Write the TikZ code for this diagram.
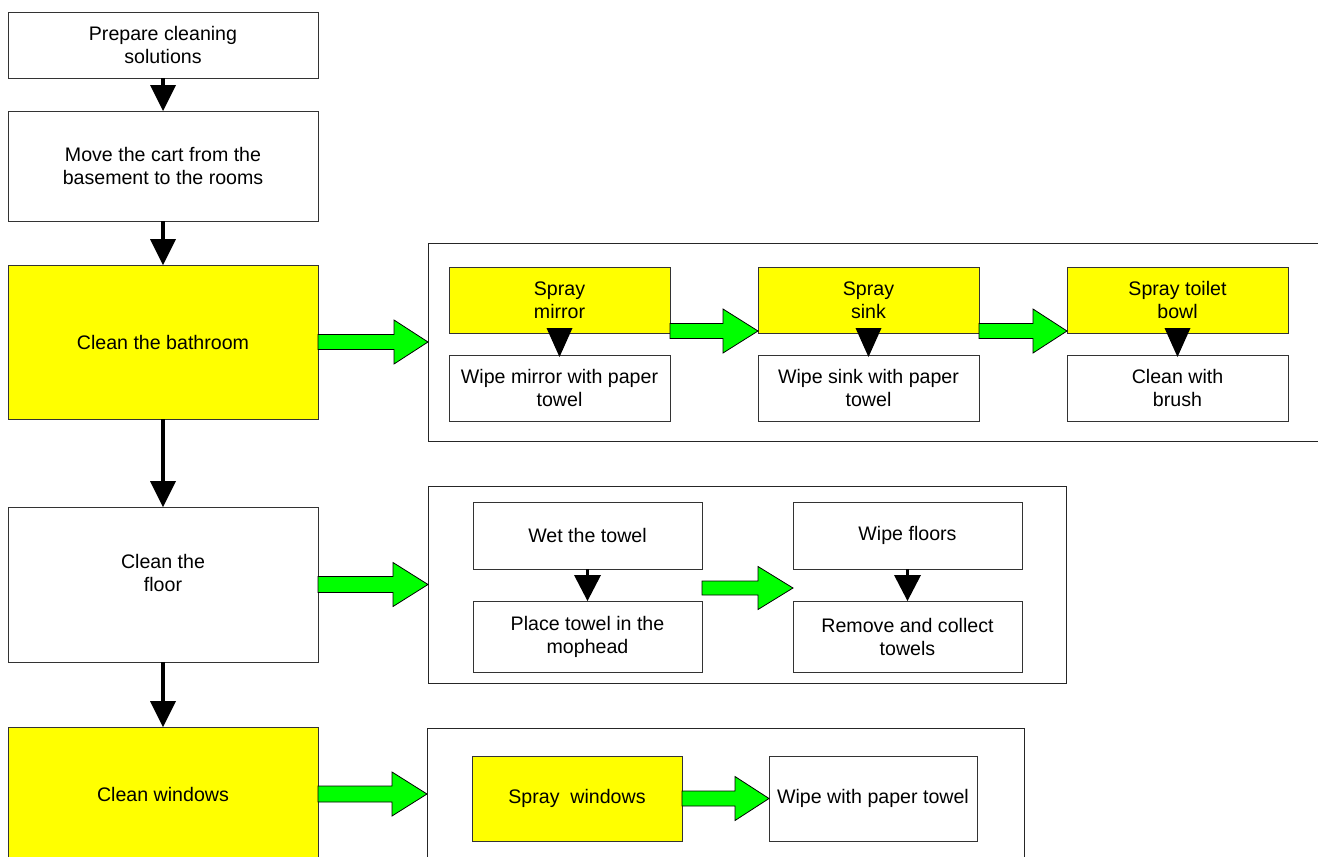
\documentclass[tikz,border=0pt]{standalone}
\usepackage{fontspec}
\setmainfont{Liberation Sans}
\usetikzlibrary{calc}
\definecolor{ylw}{RGB}{255,255,0}
\definecolor{grn}{RGB}{0,255,0}
\tikzset{
  base/.style={draw=black!80, line width=0.8pt, inner sep=0pt, outer sep=0pt, align=center,
    font=\fontsize{19.6}{23}\selectfont},
  wbox/.style={base, fill=white},
  ybox/.style={base, fill=ylw},
  frame/.style={draw=black!85, line width=0.8pt, inner sep=0pt, outer sep=0pt, fill=white},
  kshaft/.style={line width=3.6pt, black},
  garrow/.style={draw=black, line width=0.8pt, fill=grn, line join=miter},
}
% green block arrow: #1 start, #2 tip, #3 shaft half width, #4 head half width, #5 head length
\newcommand{\grarrow}[5]{%
  \draw[garrow] ($(#1)+(0,-#3)$) -- ($(#2)+(-#5,-#3)$) -- ($(#2)+(-#5,-#4)$) -- (#2)
    -- ($(#2)+(-#5,#4)$) -- ($(#2)+(-#5,#3)$) -- ($(#1)+(0,#3)$) -- cycle;}
% black down arrow with shaft from node #1 to node #2
\newcommand{\kdown}[2]{%
  \draw[kshaft] (#1.south) -- ($(#2.north)+(0,-24)$);
  \fill[black] ($(#2.north)+(-13,-26)$) -- (#2.north) -- ($(#2.north)+(13,-26)$) -- cycle;}
% black head only, ending on node #1
\newcommand{\khead}[1]{%
  \fill[black] ($(#1.north)+(-13,-27)$) -- ($(#1.north)+(0,2)$) -- ($(#1.north)+(13,-27)$) -- cycle;}
\begin{document}
\begin{tikzpicture}[x=1pt,y=-1pt]
\useasboundingbox (0,0) rectangle (1318,857);
\clip (0,0) rectangle (1318,857);
\fill[white] (0,0) rectangle (1318,857);

% main column
\node[wbox, minimum width=310pt, minimum height=66pt]  (b1) at (163,45)    {Prepare cleaning\\solutions};
\node[wbox, minimum width=310pt, minimum height=110pt] (b2) at (163,166)   {Move the cart from the\\basement to the rooms};
\node[ybox, minimum width=310pt, minimum height=154pt] (b3) at (163,342)   {Clean the bathroom};
\node[wbox, minimum width=310pt, minimum height=155pt] (b4) at (163,584.5) {Clean the\\floor\\\mbox{}};
\node[ybox, minimum width=310pt, minimum height=134pt] (b5) at (163,794)   {Clean windows};

\kdown{b1}{b2}
\kdown{b2}{b3}
\kdown{b3}{b4}
\kdown{b4}{b5}

% bathroom frame
\node[frame, minimum width=902pt, minimum height=198pt] (bc) at (879,342) {};
\node[ybox, minimum width=221pt, minimum height=66pt] (sm) at (559.5,300)  {Spray\\mirror};
\node[wbox, minimum width=221pt, minimum height=66pt] (wm) at (559.5,388)  {Wipe mirror with paper\\towel};
\node[ybox, minimum width=221pt, minimum height=66pt] (ss) at (868.5,300)  {Spray\\sink};
\node[wbox, minimum width=221pt, minimum height=66pt] (ws) at (868.5,388)  {Wipe sink with paper\\towel};
\node[ybox, minimum width=221pt, minimum height=66pt] (st) at (1177.5,300) {Spray toilet\\bowl};
\node[wbox, minimum width=221pt, minimum height=66pt] (cb) at (1177.5,388) {Clean with\\brush};
\khead{wm}
\khead{ws}
\khead{cb}
\grarrow{b3.east}{bc.west}{7.5}{22}{34}
\grarrow{[yshift=2pt]sm.south east}{[yshift=2pt]ss.south west}{7.5}{22}{35}
\grarrow{[yshift=2pt]ss.south east}{[yshift=2pt]st.south west}{7.5}{22}{34}

% floor frame
\node[frame, minimum width=638pt, minimum height=197pt] (fc) at (747,584.5) {};
\node[wbox, minimum width=229pt, minimum height=67pt] (wt) at (587.5,535.5) {Wet the towel};
\node[wbox, minimum width=229pt, minimum height=71pt] (pt) at (587.5,636.5) {Place towel in the\\mophead};
\node[wbox, minimum width=229pt, minimum height=67pt] (wf) at (907.5,535.5) {Wipe floors};
\node[wbox, minimum width=229pt, minimum height=71pt] (rc) at (907.5,636.5) {Remove and collect\\towels};
\draw[kshaft] (wt.south) -- ($(pt.north)+(0,-24)$);
\fill[black] ($(pt.north)+(-13.5,-26)$) -- (pt.north) -- ($(pt.north)+(13.5,-26)$) -- cycle;
\draw[kshaft] (wf.south) -- ($(rc.north)+(0,-24)$);
\fill[black] ($(rc.north)+(-13.5,-26)$) -- (rc.north) -- ($(rc.north)+(13.5,-26)$) -- cycle;
\grarrow{b4.east}{fc.west}{8}{22}{35}
\grarrow{[yshift=-3pt]$(wt.south east)!0.5!(pt.north east)$}{[yshift=-3pt]$(wf.south west)!0.5!(rc.north west)$}{7}{21.5}{35}

% windows frame
\node[frame, minimum width=597pt, minimum height=132pt] (wc) at (725.5,794) {};
\node[ybox, minimum width=210pt, minimum height=85pt] (sw) at (577,798.5) {Spray\ \ windows};
\node[wbox, minimum width=208pt, minimum height=85pt] (wp) at (873,798.5) {Wipe with paper towel};
\grarrow{b5.east}{wc.west}{8}{22}{35}
\grarrow{sw.east}{wp.west}{7.5}{22}{34}
\end{tikzpicture}
\end{document}
